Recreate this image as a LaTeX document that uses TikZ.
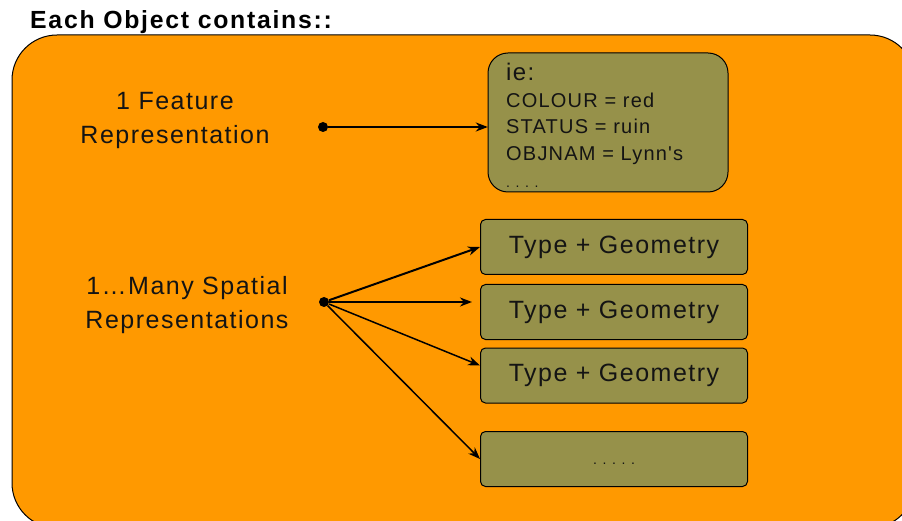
\documentclass[tikz,border=0pt]{standalone}
\usepackage{fontspec}
\setmainfont{Liberation Sans}
\newfontfamily\spaced[LetterSpace=6]{Liberation Sans}
\newfontfamily\spacedbold[LetterSpace=7]{Liberation Sans Bold}
\newfontfamily\wide[LetterSpace=40]{Liberation Sans}
\usetikzlibrary{arrows.meta}
\definecolor{objorange}{RGB}{255,153,0}
\definecolor{olivebox}{RGB}{150,145,74}
\definecolor{inktext}{RGB}{20,20,20}
\begin{document}
\begin{tikzpicture}[x=1pt,y=-1pt,
  olive/.style={draw=black,line width=1pt,fill=olivebox,inner sep=0pt},
  geombox/.style={olive,rounded corners=5pt,minimum width=267pt,minimum height=55pt,
    font=\spaced\fontsize{25}{28}\selectfont,text=inktext},
  label/.style={align=center,font=\spaced\fontsize{25}{34}\selectfont,text=inktext},
  dotnode/.style={circle,fill=black,inner sep=0pt,minimum size=10pt},
  link/.style={-{Stealth[length=12pt,width=9pt]},line width=2pt},
  thinlink/.style={-{Stealth[length=12pt,width=9pt]},line width=1.5pt}]
\useasboundingbox (0,0) rectangle (902,521);
\begin{scope}
  \clip (0,0) rectangle (902,521);
  % outer object container
  \draw[fill=objorange,line width=1pt,rounded corners=45pt] (12,35) rectangle (915,528);
\end{scope}
% heading
\node[anchor=base west,inner sep=0pt,font=\spacedbold\fontsize{24.8}{27}\selectfont] (title) at (30,29) {Each Object contains::};

% feature representation
\node[label] (featlabel) at (175,120) {1 Feature\\Representation};
\node[dotnode] (dot1) at (323,127) {};
\draw[olive,rounded corners=20pt] (488,53) rectangle (728,192);
\node[inner sep=0pt,minimum width=240pt,minimum height=139pt] (feat) at (608,122.5) {};
\node[anchor=base west,inner sep=0pt,font=\spaced\fontsize{24}{26}\selectfont,text=inktext] (ie) at (506,81) {ie:};
\begin{scope}[every node/.style={anchor=base west,inner sep=0pt,font=\spaced\fontsize{20}{24}\selectfont,text=inktext}]
  \node (attr1) at (506,108) {COLOUR = red};
  \node (attr2) at (506,134) {STATUS = ruin};
  \node (attr3) at (506,161) {OBJNAM = Lynn's};
  \node[font=\wide\fontsize{14}{16}\selectfont] (attr4) at (506,188) {....};
\end{scope}
\draw[link] (dot1) -- (dot1 -| feat.west);

% spatial representations
\node[label] (spatlabel) at (187,305) {1\ldots Many Spatial\\Representations};
\node[dotnode] (dot2) at (324,302) {};
\node[geombox] (geo1) at (614,247) {Type + Geometry};
\node[geombox] (geo2) at (614,312) {Type + Geometry};
\node[geombox] (geo3) at (614,375.5) {Type + Geometry};
\node[geombox,font=\wide\fontsize{14}{16}\selectfont] (geo4) at (614,459) {\raisebox{-10pt}{.....}};
\draw[link] (dot2) -- (geo1.west);
\draw[link] (dot2) -- ([xshift=-8pt]dot2 -| geo2.west);
\draw[thinlink] (dot2) -- ([yshift=10pt]geo3.west);
\draw[thinlink] (dot2) -- (geo4.west);
\end{tikzpicture}
\end{document}
